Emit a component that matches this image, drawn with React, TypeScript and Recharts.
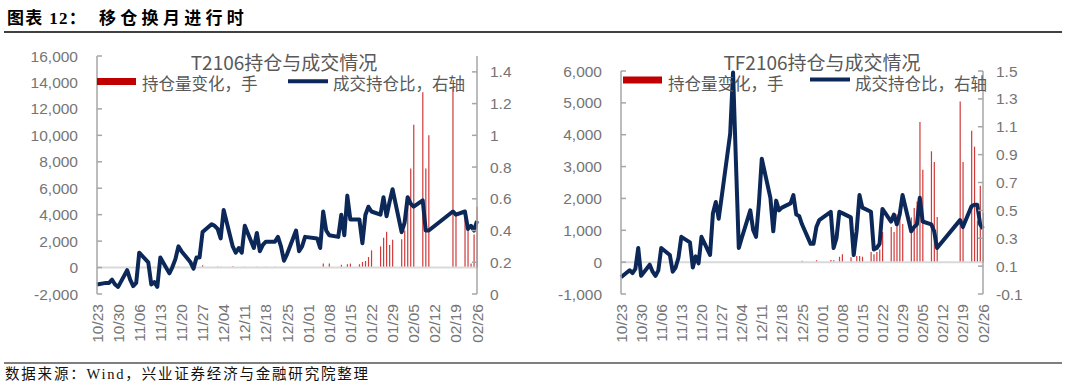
import React from "react";
import { ComposedChart, Bar, Line, XAxis, YAxis, ReferenceLine } from "recharts";

// trading days, 2020-10-23 .. 2021-02-26
const tradeDates = [
  "10/23", "10/26", "10/27", "10/28", "10/29", "10/30",
  "11/02", "11/03", "11/04", "11/05", "11/06",
  "11/09", "11/10", "11/11", "11/12", "11/13",
  "11/16", "11/17", "11/18", "11/19", "11/20",
  "11/23", "11/24", "11/25", "11/26", "11/27",
  "11/30", "12/01", "12/02", "12/03", "12/04",
  "12/07", "12/08", "12/09", "12/10", "12/11",
  "12/14", "12/15", "12/16", "12/17", "12/18",
  "12/21", "12/22", "12/23", "12/24", "12/25",
  "12/28", "12/29", "12/30", "12/31",
  "01/04", "01/05", "01/06", "01/07", "01/08",
  "01/11", "01/12", "01/13", "01/14", "01/15",
  "01/18", "01/19", "01/20", "01/21", "01/22",
  "01/25", "01/26", "01/27", "01/28", "01/29",
  "02/01", "02/02", "02/03", "02/04", "02/05",
  "02/08", "02/09", "02/10",
  "02/18", "02/19",
  "02/22", "02/23", "02/24", "02/25", "02/26",
];

// T2106: 持仓量变化（手）
const tOiChange = [
  0, 0, 0, 0, 0, 0,
  0, 0, 0, 0, 0,
  0, 0, 0, 0, 0,
  0, 0, 60, 80, 0,
  0, 0, 0, 0, 180,
  0, 0, 80, 60, 0,
  90, 0, 0, 0, 70,
  0, 60, 50, 0, 70,
  60, 0, 0, 0, 0,
  50, 0, 0, 0,
  0, 0, 300, 0, 300,
  0, 220, 0, 250, 300,
  250, 420, 500, 800, 1300,
  1600, 2250, 2700, 1700, 2100,
  2150, 2800, 5200, 7500, 10800,
  13250, 7500, 10000,
  13500, 4100,
  4100, 2800, 300, 2500, 4600,
];

// T2106: 成交持仓比（右轴）
const tRatio = [
  0.06, 0.07, 0.07, 0.09, 0.06, 0.045,
  0.15, 0.09, 0.05, 0.07, 0.26,
  0.2, 0.06, 0.075, 0.045, 0.23,
  0.13, 0.17, 0.22, 0.3, 0.27,
  0.2, 0.16, 0.23, 0.23, 0.39,
  0.44, 0.43, 0.41, 0.35, 0.53,
  0.3, 0.26, 0.29, 0.26, 0.43,
  0.29, 0.385, 0.27, 0.31, 0.33,
  0.33, 0.36, 0.3, 0.21, 0.25,
  0.4, 0.27, 0.3, 0.36,
  0.35, 0.29, 0.52, 0.4, 0.37,
  0.36, 0.5, 0.37, 0.62, 0.47,
  0.47, 0.32, 0.5, 0.55, 0.52,
  0.5, 0.61, 0.49, 0.58, 0.66,
  0.39, 0.45, 0.61, 0.57, 0.55,
  0.59, 0.4, 0.4,
  0.52, 0.5,
  0.52, 0.41, 0.43, 0.4, 0.46,
];

// TF2106: 持仓量变化（手）
const tfOiChange = [
  0, 0, 0, 0, 0, 0,
  0, 0, 0, 0, 0,
  0, 0, 0, 0, 0,
  0, 0, 0, 0, 0,
  0, 0, 0, 0, 0,
  0, 0, 0, 0, 0,
  0, 0, 0, 0, 0,
  0, 0, 0, 0, 0,
  0, 0, 0, 0, 40,
  0, 0, 60, 0,
  70, 60, 0, 170, 250,
  150, 0, 190, 190, 170,
  320, 250, 320, 400, 950,
  1100, 950, 1500, 1650, 1200,
  1400, 1700, 1900, 4400, 2900,
  3480, 3140, 1420,
  5040, 3140,
  4125, 3625, 1300, 2400, 1550,
];

// TF2106: 成交持仓比（右轴）
const tfRatio = [
  0.02, 0.07, 0.05, 0.08, 0.23, 0.03,
  0.11, 0.06, 0.03, 0.07, 0.23,
  0.18, 0.06, 0.09, 0.16, 0.31,
  0.27, 0.09, 0.17, 0.12, 0.31,
  0.18, 0.48, 0.56, 0.44, 0.59,
  1.05, 1.49, 0.85, 0.23, 0.3,
  0.5, 0.36, 0.31, 0.55, 0.87,
  0.59, 0.35, 0.57, 0.5, 0.52,
  0.55, 0.61, 0.47, 0.46, 0.4,
  0.26, 0.26, 0.38, 0.43,
  0.49, 0.23, 0.3, 0.49, 0.48,
  0.45, 0.18, 0.35, 0.61, 0.52,
  0.49, 0.22, 0.23, 0.26, 0.51,
  0.42, 0.47, 0.4, 0.47, 0.61,
  0.35, 0.38, 0.4, 0.59, 0.42,
  0.4, 0.35, 0.23,
  0.43, 0.38,
  0.53, 0.54, 0.54, 0.4, 0.37,
];

const dateTicks = [
  "10/23", "10/30", "11/06", "11/13", "11/20", "11/27", "12/04", "12/11", "12/18", "12/25",
  "01/01", "01/08", "01/15", "01/22", "01/29", "02/05", "02/12", "02/19", "02/26",
];

const tOiTicks = [-2000, 0, 2000, 4000, 6000, 8000, 10000, 12000, 14000, 16000];
const tRatioTicks = [0, 0.2, 0.4, 0.6, 0.8, 1, 1.2, 1.4];
const tfOiTicks = [-1000, 0, 1000, 2000, 3000, 4000, 5000, 6000];
const tfRatioTicks = [-0.1, 0.1, 0.3, 0.5, 0.7, 0.9, 1.1, 1.3, 1.5];

// calendar day offset from the first date (date axis, like Excel)
const dayOf = (md: string) => {
  const [m, d] = md.split("/").map(Number);
  const y = m >= 10 ? 2020 : 2021;
  return Math.round((Date.UTC(y, m - 1, d) - Date.UTC(2020, 9, 23)) / 86400000);
};

const tickDays = dateTicks.map(dayOf);
const labelByDay = new Map(dateTicks.map((t) => [dayOf(t), t]));

const buildRows = (oi: number[], ratio: number[]) =>
  tradeDates.map((date, i) => ({ day: dayOf(date), date, oi: oi[i], ratio: ratio[i] }));

const tRows = buildRows(tOiChange, tRatio);
const tfRows = buildRows(tfOiChange, tfRatio);

const AXIS_GRAY = "#a6a6a6";
const TICK_GRAY = "#757575";
const TEXT_GRAY = "#595959";
const RED = "#c00000";
const BAR_RED = "#cf3a3a";
const NAVY = "#0c2859";
const NUM_FONT = "'Liberation Sans', Arial, sans-serif";
const CJK_FONT = "'Noto Sans CJK SC', 'Liberation Sans', sans-serif";

const LEFT_MARGIN = 19;
const RIGHT_MARGIN = 13;

const fmtThousands = (v: number) => v.toLocaleString("en-US");
const fmtRatio = (v: number) => String(Number(v.toFixed(1)));

const LeftTick = (props: any) => {
  const { x, y, payload } = props;
  const axisX = x + LEFT_MARGIN;
  return (
    <g>
      <line x1={axisX} x2={axisX + 5} y1={y} y2={y} stroke={AXIS_GRAY} strokeWidth={1.5} />
      <text x={x} y={y} dy="0.36em" textAnchor="end" fill={TICK_GRAY} fontSize={15.5} fontFamily={NUM_FONT}>
        {fmtThousands(payload.value)}
      </text>
    </g>
  );
};

const RightTick = (props: any) => {
  const { x, y, payload } = props;
  const axisX = x - RIGHT_MARGIN;
  return (
    <g>
      <line x1={axisX} x2={axisX - 5} y1={y} y2={y} stroke={AXIS_GRAY} strokeWidth={1.5} />
      <text x={x} y={y} dy="0.36em" textAnchor="start" fill={TICK_GRAY} fontSize={15.5} fontFamily={NUM_FONT}>
        {fmtRatio(payload.value)}
      </text>
    </g>
  );
};

const DateTick = (props: any) => {
  const { x, y, payload } = props;
  return (
    <text
      x={x}
      y={y}
      dy="0.36em"
      textAnchor="end"
      transform={`rotate(-90, ${x}, ${y})`}
      fill={TICK_GRAY}
      fontSize={15.5}
      fontFamily={NUM_FONT}
    >
      {labelByDay.get(payload.value)}
    </text>
  );
};

type PanelProps = {
  rows: { day: number; date: string; oi: number; ratio: number }[];
  oiTicks: number[];
  ratioTicks: number[];
  top: number;
  left: number;
  right: number;
};

const Panel: React.FC<PanelProps> = ({ rows, oiTicks, ratioTicks, top, left, right }) => (
  <ComposedChart
    width={540}
    height={386}
    data={rows}
    margin={{ top, bottom: 32, left, right }}
  >
    <XAxis
      type="number"
      dataKey="day"
      domain={[tickDays[0], tickDays[tickDays.length - 1]]}
      ticks={tickDays}
      interval={0}
      tick={DateTick}
      tickLine={false}
      axisLine={false}
      tickSize={0}
      tickMargin={10}
      height={60}
    />
    <YAxis
      yAxisId="left"
      orientation="left"
      width={60}
      domain={[oiTicks[0], oiTicks[oiTicks.length - 1]]}
      ticks={oiTicks}
      interval={0}
      tick={LeftTick}
      tickLine={false}
      tickSize={0}
      tickMargin={LEFT_MARGIN}
      axisLine={{ stroke: AXIS_GRAY, strokeWidth: 1.5 }}
    />
    <YAxis
      yAxisId="right"
      orientation="right"
      width={50}
      domain={[ratioTicks[0], 1.5]}
      ticks={ratioTicks}
      interval={0}
      tick={RightTick}
      tickLine={false}
      tickSize={0}
      tickMargin={RIGHT_MARGIN}
      axisLine={{ stroke: AXIS_GRAY, strokeWidth: 1.5 }}
    />
    <ReferenceLine yAxisId="left" y={0} stroke="#d9d9d9" strokeWidth={2} />
    <Bar yAxisId="left" dataKey="oi" fill={BAR_RED} barSize={1.2} isAnimationActive={false} />
    <Line
      yAxisId="right"
      type="linear"
      dataKey="ratio"
      stroke={NAVY}
      strokeWidth={4}
      strokeLinejoin="round"
      dot={false}
      activeDot={false}
      isAnimationActive={false}
    />
  </ComposedChart>
);

const Legend: React.FC<{ rectX: number; rectY: number; labelX: number; lineX: number; lineY: number; label2X: number; baseline: number }> = ({
  rectX,
  rectY,
  labelX,
  lineX,
  lineY,
  label2X,
  baseline,
}) => (
  <g>
    <rect x={rectX} y={rectY} width={39} height={7} fill={RED} />
    <text x={labelX} y={baseline} fill={TEXT_GRAY} fontSize={16.5} fontFamily={CJK_FONT}>
      持仓量变化，手
    </text>
    <line x1={lineX} x2={lineX + 40} y1={lineY} y2={lineY} stroke={NAVY} strokeWidth={4} />
    <text x={label2X} y={baseline} fill={TEXT_GRAY} fontSize={16.5} fontFamily={CJK_FONT}>
      成交持仓比，右轴
    </text>
  </g>
);

const App: React.FC = () => (
  <div style={{ position: "absolute", left: 0, top: 0, width: 1080, height: 386, background: "#fff", overflow: "hidden" }}>
    <div style={{ position: "absolute", left: 0, top: 0 }}>
      <Panel rows={tRows} oiTicks={tOiTicks} ratioTicks={tRatioTicks} top={56} left={37} right={13} />
    </div>
    <div style={{ position: "absolute", left: 540, top: 0 }}>
      <Panel rows={tfRows} oiTicks={tfOiTicks} ratioTicks={tfRatioTicks} top={71} left={21} right={47} />
    </div>
    <svg width={1080} height={386} style={{ position: "absolute", left: 0, top: 0, pointerEvents: "none" }}>
      <text x={7} y={24} fontSize={17} fontWeight="bold" letterSpacing={1.3} fontFamily="'Liberation Serif', 'Noto Sans CJK SC', serif" fill="#000">
        图表 12：
      </text>
      <text x={99} y={24} fontSize={17} fontWeight="bold" letterSpacing={4.3} fontFamily="'Noto Sans CJK SC', serif" fill="#000">
        移仓换月进行时
      </text>
      <line x1={4} x2={1062} y1={32} y2={32} stroke="#000" strokeWidth={1.5} />

      <text x={284} y={70} textAnchor="middle" fill={TEXT_GRAY} fontSize={19} fontFamily={CJK_FONT}>
        T2106持仓与成交情况
      </text>
      <Legend rectX={97} rectY={78} labelX={142} lineX={288} lineY={81.3} label2X={333} baseline={90} />

      <text x={822} y={70} textAnchor="middle" fill={TEXT_GRAY} fontSize={19} fontFamily={CJK_FONT}>
        TF2106持仓与成交情况
      </text>
      <Legend rectX={623} rectY={76.5} labelX={668} lineX={810} lineY={79.5} label2X={855} baseline={89.5} />

      <line x1={4} x2={1062} y1={363} y2={363} stroke="#000" strokeWidth={1.2} />
      <text x={5} y={379} fontSize={14.5} letterSpacing={1.8} fontFamily="'Liberation Serif', 'Noto Sans CJK SC', serif" fill="#111">
        数据来源：Wind，兴业证券经济与金融研究院整理
      </text>
    </svg>
  </div>
);

export default App;
